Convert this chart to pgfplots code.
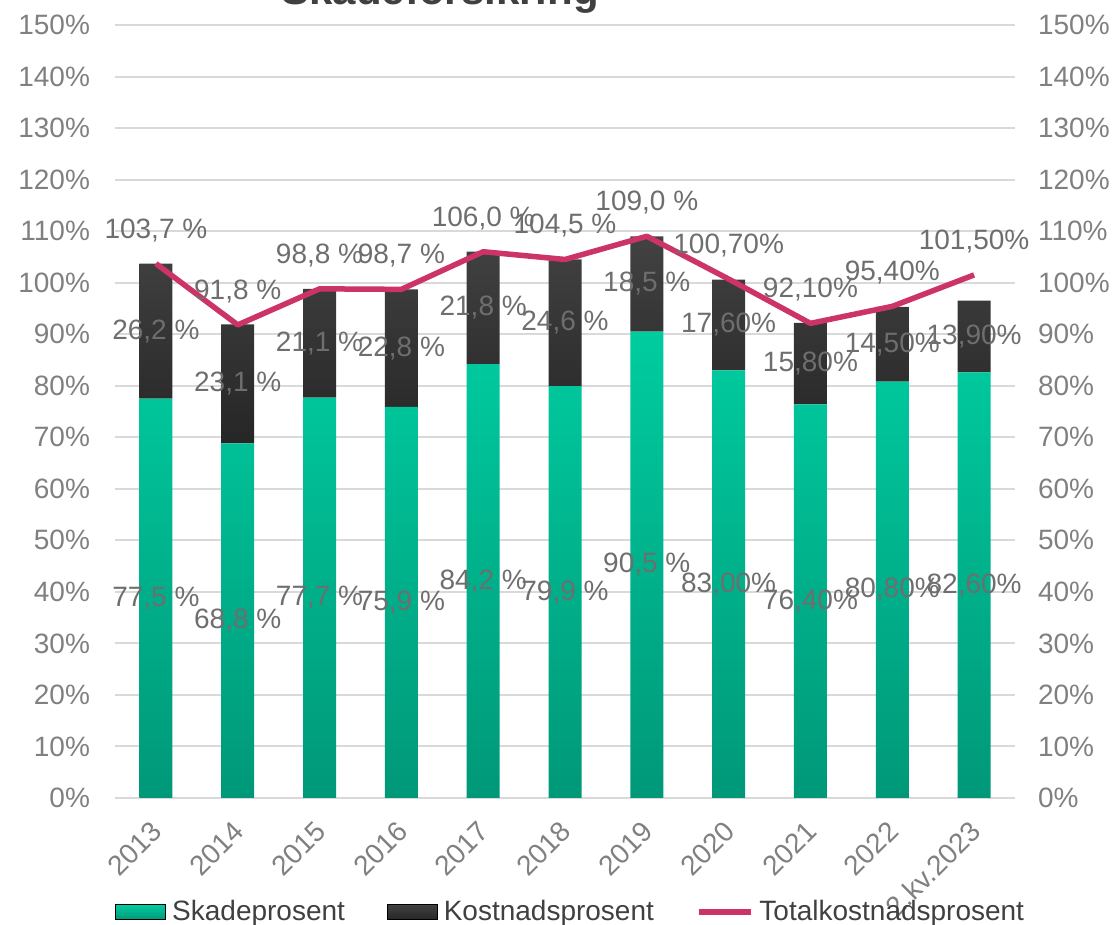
\documentclass[border=0pt]{standalone}
\usepackage{pgfplots}
\pgfplotsset{compat=1.18}
\usepackage{fontspec}
\setmainfont{Liberation Sans}
\definecolor{gtop}{HTML}{00CCA0}
\definecolor{gbot}{HTML}{009878}
\definecolor{dtop}{HTML}{424242}
\definecolor{dbot}{HTML}{262626}
\definecolor{lineC}{HTML}{CC3366}
\definecolor{tickC}{HTML}{808080}
\definecolor{labC}{HTML}{6E6E6E}
\definecolor{legC}{HTML}{404040}
\definecolor{gridC}{HTML}{D9D9D9}
\newcommand{\fs}{\fontsize{14}{16.5}\selectfont}
\pgfplotsset{
  common/.style={
    at={(57.5pt,63.5pt)}, anchor=south west,
    scale only axis, width=450pt, height=386.5pt,
    xmin=-0.5, xmax=10.5, ymin=0, ymax=150,
    ytick={0,10,...,150},
    yticklabel={\pgfmathprintnumber{\tick}\%},
    /pgf/number format/assume math mode=true,
    ticklabel style={font=\fs, text=tickC},
    major tick length=0pt,
  },
  lab/.style={draw=none, mark=none, forget plot, nodes near coords,
    point meta=explicit symbolic,
    nodes near coords style={anchor=center, font=\fs, text=labC, inner sep=0pt}},
}
\begin{document}
\begin{tikzpicture}
\useasboundingbox (0,0) rectangle (559pt,462.5pt);
\node[overlay, anchor=base, font=\bfseries\fontsize{21}{25}\selectfont, text=legC] at (220pt,460pt) {Skadeforsikring};
\begin{axis}[common,
  ybar stacked, bar width=16.5pt,
  xtick={0,...,10},
  xticklabels={2013,2014,2015,2016,2017,2018,2019,2020,2021,2022,2.kv.2023},
  xticklabel style={rotate=45, anchor=north east, xshift=-6.2pt, yshift=-1.9pt},
  yticklabel style={anchor=east, xshift=-9pt},
  ymajorgrids, grid style={draw=gridC, line width=1pt},
  axis x line*=bottom, axis y line*=left,
  x axis line style={draw=gridC, line width=1pt, -},
  y axis line style={draw=none},
]
\addplot[draw=none, top color=gtop, bottom color=gbot] coordinates {
(0,77.5) (1,68.8) (2,77.7) (3,75.9) (4,84.2) (5,79.9) (6,90.5) (7,83.0) (8,76.4) (9,80.8) (10,82.6)};
\addplot[draw=none, top color=dtop, bottom color=dbot] coordinates {
(0,26.2) (1,23.1) (2,21.1) (3,22.8) (4,21.8) (5,24.6) (6,18.5) (7,17.6) (8,15.8) (9,14.5) (10,13.9)};
\end{axis}
\begin{axis}[common,
  hide x axis,
  axis y line*=right,
  y axis line style={draw=none},
  yticklabel style={anchor=west, xshift=8pt},
  legend columns=3,
  legend style={at={(axis description cs:0,0)}, anchor=west, yshift=-57pt,
    draw=none, fill=none, inner sep=0pt, font=\fs, text=legC,
    /tikz/every even column/.append style={column sep=18pt},
    nodes={inner xsep=3pt}},
]
\addlegendimage{legend image code/.code={\fill[top color=gtop,bottom color=gbot] (0pt,-3.75pt) rectangle (25pt,3.75pt);}}
\addlegendentry{Skadeprosent}
\addlegendimage{legend image code/.code={\fill[top color=dtop,bottom color=dbot] (0pt,-3.75pt) rectangle (25pt,3.75pt);}}
\addlegendentry{Kostnadsprosent}
\addlegendimage{legend image code/.code={\draw[lineC, line width=2.75pt] (-5pt,0pt) -- (21pt,0pt);}}
\addlegendentry{Totalkostnadsprosent}
\addplot[lineC, line width=2.75pt, mark=none, line join=round, forget plot] coordinates {
(0,103.7) (1,91.8) (2,98.8) (3,98.7) (4,106.0) (5,104.5) (6,109.0) (7,100.7) (8,92.1) (9,95.4) (10,101.5)};
% Skadeprosent labels (segment centres)
\addplot[lab] coordinates {
(0,38.75) [77,5 \%] (1,34.4) [68,8 \%] (2,38.85) [77,7 \%] (3,37.95) [75,9 \%]
(4,42.1) [84,2 \%] (5,39.95) [79,9 \%] (6,45.25) [90,5 \%] (7,41.5) [83,00\%]
(8,38.2) [76,40\%] (9,40.4) [80,80\%] (10,41.3) [82,60\%]};
% Kostnadsprosent labels
\addplot[lab] coordinates {
(0,90.6) [26,2 \%] (1,80.35) [23,1 \%] (2,88.25) [21,1 \%] (3,87.3) [22,8 \%]
(4,95.1) [21,8 \%] (5,92.2) [24,6 \%] (6,99.75) [18,5 \%] (7,91.8) [17,60\%]
(8,84.3) [15,80\%] (9,88.05) [14,50\%] (10,89.55) [13,90\%]};
% Totalkostnadsprosent labels
\addplot[lab] coordinates {
(0,110.2) [103,7 \%] (1,98.3) [91,8 \%] (2,105.3) [98,8 \%] (3,105.2) [98,7 \%]
(4,112.5) [106,0 \%] (5,111.0) [104,5 \%] (6,115.5) [109,0 \%] (7,107.2) [100,70\%]
(8,98.6) [92,10\%] (9,101.9) [95,40\%] (10,108.0) [101,50\%]};
\end{axis}
\end{tikzpicture}
\end{document}
